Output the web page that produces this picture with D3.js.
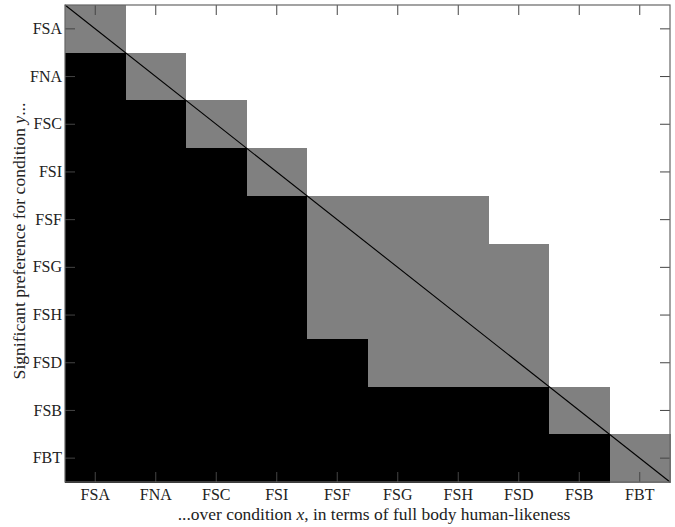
<!DOCTYPE html>
<html>
<head>
<meta charset="utf-8">
<script src="https://cdn.jsdelivr.net/npm/d3@7"></script>
<style>
  html, body { margin: 0; padding: 0; background: #fff; }
  svg text { font-family: "Liberation Serif", "DejaVu Serif", serif; }
</style>
</head>
<body>
<svg id="chart" width="675" height="527"></svg>
<script>
// Conditions (same order on both axes)
const categories = ["FSA", "FNA", "FSC", "FSI", "FSF", "FSG", "FSH", "FSD", "FSB", "FBT"];

// Status per row (condition y) over each column (condition x):
// 2 = significant preference for y over x (black), 1 = no significant difference (gray), 0 = none (white)
const rowFSA = [1, 0, 0, 0, 0, 0, 0, 0, 0, 0];
const rowFNA = [2, 1, 0, 0, 0, 0, 0, 0, 0, 0];
const rowFSC = [2, 2, 1, 0, 0, 0, 0, 0, 0, 0];
const rowFSI = [2, 2, 2, 1, 0, 0, 0, 0, 0, 0];
const rowFSF = [2, 2, 2, 2, 1, 1, 1, 0, 0, 0];
const rowFSG = [2, 2, 2, 2, 1, 1, 1, 1, 0, 0];
const rowFSH = [2, 2, 2, 2, 1, 1, 1, 1, 0, 0];
const rowFSD = [2, 2, 2, 2, 2, 1, 1, 1, 0, 0];
const rowFSB = [2, 2, 2, 2, 2, 2, 2, 2, 1, 0];
const rowFBT = [2, 2, 2, 2, 2, 2, 2, 2, 2, 1];
const statusRows = [rowFSA, rowFNA, rowFSC, rowFSI, rowFSF, rowFSG, rowFSH, rowFSD, rowFSB, rowFBT];

const xLabel = "...over condition ";
const yLabel = "Significant preference for condition ";

const W = 675, H = 527;
const margin = { left: 65, top: 5, right: 5, bottom: 45 };
const iw = W - margin.left - margin.right;
const ih = H - margin.top - margin.bottom;

const svg = d3.select("#chart");
const g = svg.append("g").attr("transform", `translate(${margin.left},${margin.top})`);

const x = d3.scaleBand().domain(categories).range([0, iw]).padding(0);
const y = d3.scaleBand().domain(categories).range([0, ih]).padding(0);
const color = d3.scaleOrdinal().domain([0, 1, 2]).range(["#ffffff", "#808080", "#000000"]);

const cells = [];
statusRows.forEach((row, ri) => {
  row.forEach((v, ci) => cells.push({ yc: categories[ri], xc: categories[ci], v }));
});

g.selectAll("rect.cell")
  .data(cells)
  .join("rect")
  .attr("class", "cell")
  .attr("x", d => x(d.xc))
  .attr("y", d => y(d.yc))
  .attr("width", x.bandwidth() + 0.5)
  .attr("height", y.bandwidth() + 0.5)
  .attr("fill", d => color(d.v))
  .attr("shape-rendering", "crispEdges");

// Diagonal line
g.append("line")
  .attr("x1", x.range()[0]).attr("y1", y.range()[0])
  .attr("x2", x.range()[1]).attr("y2", y.range()[1])
  .attr("stroke", "#000").attr("stroke-width", 1.1);

// Axes with inward ticks
const tickLen = 10;
function styleAxis(sel) {
  sel.select(".domain").remove();
  sel.selectAll(".tick line").attr("stroke", "#444").attr("stroke-width", 1);
  sel.selectAll(".tick text").attr("fill", "#222").style("font-size", "16px");
}

g.append("g").attr("transform", `translate(0,${ih})`)
  .call(d3.axisBottom(x).tickSizeInner(-tickLen).tickSizeOuter(0).tickPadding(6.5))
  .call(styleAxis);

g.append("g")
  .call(d3.axisTop(x).tickSizeInner(-tickLen).tickSizeOuter(0).tickFormat(""))
  .call(styleAxis);

g.append("g")
  .call(d3.axisLeft(y).tickSizeInner(-tickLen).tickSizeOuter(0).tickPadding(3))
  .call(styleAxis);

g.append("g").attr("transform", `translate(${iw},0)`)
  .call(d3.axisRight(y).tickSizeInner(-tickLen).tickSizeOuter(0).tickFormat(""))
  .call(styleAxis);

// Frame
g.append("rect")
  .attr("x", 0).attr("y", 0).attr("width", iw).attr("height", ih)
  .attr("fill", "none").attr("stroke", "#666").attr("stroke-width", 1.2);

// Fit a label's font size to a target width
function fitWidth(textSel, target) {
  let fs = 16;
  textSel.style("font-size", fs + "px");
  const w = textSel.node().getComputedTextLength();
  if (w > 0) { fs = fs * target / w; textSel.style("font-size", fs + "px"); }
}

// Axis labels
const xl = svg.append("text")
  .attr("x", 374).attr("y", 520)
  .attr("text-anchor", "middle").attr("fill", "#222");
xl.append("tspan").text(xLabel);
xl.append("tspan").attr("font-style", "italic").text("x");
xl.append("tspan").text(", in terms of full body human-likeness");
fitWidth(xl, 393);

const yl = svg.append("text")
  .attr("transform", `translate(25,241) rotate(-90)`)
  .attr("text-anchor", "middle").attr("fill", "#222");
yl.append("tspan").text(yLabel);
yl.append("tspan").attr("font-style", "italic").text("y");
yl.append("tspan").text("...");
fitWidth(yl, 277);
</script>
</body>
</html>
